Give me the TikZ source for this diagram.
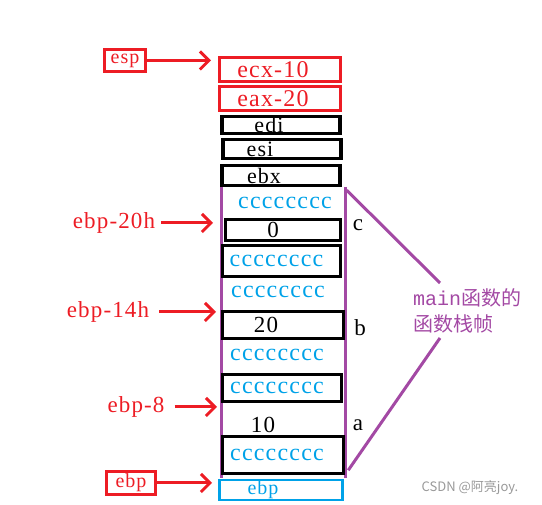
\documentclass[tikz,border=0pt]{standalone}
\usepackage{fontspec}
\setmainfont[LetterSpace=5]{Liberation Serif}
\newfontfamily\cjk{Noto Sans CJK SC}
\newfontfamily\monofnt{Liberation Mono}
\usetikzlibrary{arrows.meta,positioning}
\definecolor{paintred}{HTML}{ED1C24}
\definecolor{paintblue}{HTML}{00A2E8}
\definecolor{paintviolet}{HTML}{A349A4}
% pad on the right so the text sits left of the box centre
\newcommand{\lft}[2]{#2\hspace*{#1pt}}

\begin{document}
\begin{tikzpicture}[
    x=1pt, y=-1pt,
    every node/.style={inner sep=0pt},
    regbox/.style={draw=paintred, line width=3pt, text=paintred, minimum width=121pt, minimum height=24pt, font=\fontsize{24}{24}\selectfont},
    pushbox/.style={draw, line width=3.5pt, minimum width=118pt, font=\fontsize{22}{22}\selectfont},
    slotbox/.style={draw, line width=3.5pt, font=\fontsize{23}{23}\selectfont},
    filler/.style={text=paintblue, font=\fontsize{24}{24}\selectfont},
    varname/.style={font=\fontsize{23}{23}\selectfont},
    tagbox/.style={draw=paintred, line width=3pt, text=paintred, font=\fontsize{20}{20}\selectfont},
    tagtext/.style={text=paintred, font=\fontsize{23}{23}\selectfont},
    flow/.style={-{Straight Barb[length=9pt, width=18pt]}, paintred, line width=3pt},
    frameline/.style={paintviolet, line width=3pt}
]
\useasboundingbox (0,0) rectangle (542,505);
% main frame sides
\draw[frameline] (221,187) -- (221,478);
\draw[frameline] (345,187) -- (345,478);
% saved registers and locals
\node[regbox] (ecx) at (280,69.5) {\lft{14}{ecx-10}};
\node[regbox] (eax) at (280,98.5) {\lft{14}{eax-20}};
\node[pushbox, minimum height=17pt] (edi) at (281,125) {\lft{24}{edi}};
\node[pushbox, minimum height=19pt] (esi) at (282,149) {\lft{44}{esi}};
\node[pushbox, minimum height=20pt] (ebx) at (281,175.5) {\lft{34}{ebx}};
\node[filler] (fill1) at (285,203) {cccccccc};
\node[slotbox, minimum width=115pt, minimum height=21pt] (varc) at (283,230) {\lft{20}{0}};
\node[slotbox, filler, minimum width=118pt, minimum height=31pt] (fill2) at (281.5,261) {\lft{10}{cccccccc}};
\node[filler] (fill3) at (278,292) {cccccccc};
\node[slotbox, minimum width=121pt, minimum height=27pt] (varb) at (283,325) {\lft{34}{20}};
\node[filler] (fill4) at (277,355) {cccccccc};
\node[slotbox, filler, minimum width=119pt, minimum height=27pt] (fill5) at (282,388) {\lft{10}{cccccccc}};
\node[varname] (vara) at (263,425) {10};
\node[slotbox, filler, minimum width=121pt, minimum height=37pt] (fill6) at (283,455) {\lft{12}{cccccccc}};
\node[draw=paintblue, line width=2.5pt, text=paintblue, minimum width=123pt, minimum height=20pt, font=\fontsize{20}{20}\selectfont] (oldebp) at (281,490) {\lft{36}{ebp}};
\node[varname] (namec) at (358,225) {c};
\node[varname] (nameb) at (360,328) {b};
\node[varname] (namea) at (358,425) {a};
% pointers
\node[tagbox, minimum width=41pt, minimum height=22pt] (esp) at (125,60.5) {esp};
\node[tagtext] (off20) at (114,223) {ebp-20h};
\node[tagtext] (off14) at (108,312) {ebp-14h};
\node[tagtext] (off8) at (136,407) {ebp-8};
\node[tagbox, minimum width=49pt, minimum height=23pt] (ebp) at (131,483) {ebp};
\coordinate (esptip) at (211,60.5);
\coordinate (tip20) at (213,223);
\coordinate (tip14) at (216,312);
\coordinate (tip8) at (217,407);
\coordinate (ebptip) at (212,483);
\draw[flow] (esp.east) -- (esptip);
\draw[flow, shorten <=6pt] (off20.east) -- (tip20);
\draw[flow, shorten <=10pt] (off14.east) -- (tip14);
\draw[flow, shorten <=10pt] (off8.east) -- (tip8);
\draw[flow] (ebp.east) -- (ebptip);
% frame label
\node[text=paintviolet, align=left, anchor=north west, font=\fontsize{20}{26}\selectfont] (framelbl) at (413,288) {{\monofnt main}{\cjk 函数的}\\{\cjk 函数栈帧}};
\coordinate (lbltop) at (440,283);
\coordinate (lblbot) at (440,338);
\draw[frameline] (ebx.south east) ++(5,3) -- (lbltop);
\draw[frameline] (fill6.south east) ++(3,-5) -- (lblbot);
\node[text=black!40, font=\cjk\fontsize{13}{13}\selectfont] (mark) at (470,488) {CSDN @阿亮joy.};
\end{tikzpicture}
\end{document}
